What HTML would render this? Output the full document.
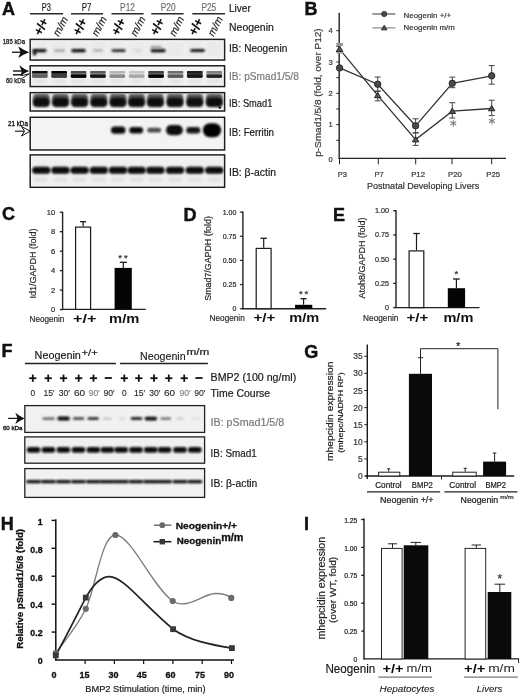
<!DOCTYPE html>
<html><head><meta charset="utf-8"><title>Figure</title>
<style>
html,body{margin:0;padding:0;background:#fff;}
body{width:520px;height:695px;overflow:hidden;}
svg{display:block;}
text{-webkit-font-smoothing:antialiased;}
.wrap{will-change:transform;}
text{font-family:"Liberation Sans", sans-serif;}
</style></head>
<body>
<div class="wrap"><svg width="520" height="695" viewBox="0 0 520 695">
<rect width="520" height="695" fill="#fff"/>
<defs><clipPath id="cA1"><rect x="30.95" y="40.15" width="192.90" height="19.15"/></clipPath><clipPath id="cA2"><rect x="30.95" y="66.55" width="192.90" height="19.25"/></clipPath><clipPath id="cA3"><rect x="30.95" y="93.40" width="192.90" height="16.85"/></clipPath><clipPath id="cA4"><rect x="30.95" y="118.05" width="192.90" height="31.15"/></clipPath><clipPath id="cA5"><rect x="30.95" y="155.65" width="192.90" height="30.90"/></clipPath><clipPath id="cF1"><rect x="25.50" y="406.50" width="178.40" height="25.10"/></clipPath><clipPath id="cF2"><rect x="25.50" y="437.60" width="178.40" height="24.70"/></clipPath><clipPath id="cF3"><rect x="25.50" y="469.30" width="178.40" height="27.20"/></clipPath><filter id="b1" x="-50%" y="-80%" width="200%" height="260%"><feGaussianBlur stdDeviation="0.8"/></filter><filter id="bh" x="-50%" y="-80%" width="200%" height="260%"><feGaussianBlur stdDeviation="0.85"/></filter><filter id="bs" x="-50%" y="-80%" width="200%" height="260%"><feGaussianBlur stdDeviation="0.55"/></filter><filter id="b2" x="-50%" y="-80%" width="200%" height="260%"><feGaussianBlur stdDeviation="1.6"/></filter></defs>
<text x="1.90" y="14.80" font-size="18" font-weight="bold" fill="#111" stroke="#111" stroke-width="0.45" >A</text>
<text x="46.35" y="10.80" font-size="11" text-anchor="middle" fill="#1a1a1a" stroke="#1a1a1a" stroke-width="0.20" textLength="9.10" lengthAdjust="spacingAndGlyphs" >P3</text>
<text x="86.55" y="10.80" font-size="11" text-anchor="middle" fill="#1a1a1a" stroke="#1a1a1a" stroke-width="0.20" textLength="9.70" lengthAdjust="spacingAndGlyphs" >P7</text>
<text x="127.50" y="10.80" font-size="11" text-anchor="middle" fill="#6e6e6e" stroke="#6e6e6e" stroke-width="0.20" textLength="14.80" lengthAdjust="spacingAndGlyphs" >P12</text>
<text x="168.20" y="10.80" font-size="11" text-anchor="middle" fill="#6e6e6e" stroke="#6e6e6e" stroke-width="0.20" textLength="14.80" lengthAdjust="spacingAndGlyphs" >P20</text>
<text x="208.80" y="10.80" font-size="11" text-anchor="middle" fill="#6e6e6e" stroke="#6e6e6e" stroke-width="0.20" textLength="14.80" lengthAdjust="spacingAndGlyphs" >P25</text>
<line x1="30.00" y1="13.80" x2="63.00" y2="13.80" stroke="#2a2a2a" stroke-width="1.5" />
<line x1="71.00" y1="13.80" x2="103.00" y2="13.80" stroke="#2a2a2a" stroke-width="1.5" />
<line x1="111.50" y1="13.80" x2="143.60" y2="13.80" stroke="#2a2a2a" stroke-width="1.5" />
<line x1="151.30" y1="13.80" x2="183.60" y2="13.80" stroke="#2a2a2a" stroke-width="1.5" />
<line x1="192.30" y1="13.80" x2="225.00" y2="13.80" stroke="#2a2a2a" stroke-width="1.5" />
<text x="44.90" y="28.90" font-size="13" text-anchor="middle" font-weight="bold" fill="#0a0a0a" transform="rotate(-63 44.90 28.90)" letter-spacing="-0.6" stroke="#0a0a0a" stroke-width="0.12">+/+</text>
<text x="63.60" y="27.90" font-size="10.5" text-anchor="middle" font-style="italic" fill="#222" stroke="#222" stroke-width="0.20" transform="rotate(-62 63.60 27.90)" >m/m</text>
<text x="83.60" y="28.90" font-size="13" text-anchor="middle" font-weight="bold" fill="#0a0a0a" transform="rotate(-63 83.60 28.90)" letter-spacing="-0.6" stroke="#0a0a0a" stroke-width="0.12">+/+</text>
<text x="102.30" y="27.90" font-size="10.5" text-anchor="middle" font-style="italic" fill="#222" stroke="#222" stroke-width="0.20" transform="rotate(-62 102.30 27.90)" >m/m</text>
<text x="122.30" y="28.90" font-size="13" text-anchor="middle" font-weight="bold" fill="#0a0a0a" transform="rotate(-63 122.30 28.90)" letter-spacing="-0.6" stroke="#0a0a0a" stroke-width="0.12">+/+</text>
<text x="141.00" y="27.90" font-size="10.5" text-anchor="middle" font-style="italic" fill="#222" stroke="#222" stroke-width="0.20" transform="rotate(-62 141.00 27.90)" >m/m</text>
<text x="161.00" y="28.90" font-size="13" text-anchor="middle" font-weight="bold" fill="#0a0a0a" transform="rotate(-63 161.00 28.90)" letter-spacing="-0.6" stroke="#0a0a0a" stroke-width="0.12">+/+</text>
<text x="179.70" y="27.90" font-size="10.5" text-anchor="middle" font-style="italic" fill="#222" stroke="#222" stroke-width="0.20" transform="rotate(-62 179.70 27.90)" >m/m</text>
<text x="199.70" y="28.90" font-size="13" text-anchor="middle" font-weight="bold" fill="#0a0a0a" transform="rotate(-63 199.70 28.90)" letter-spacing="-0.6" stroke="#0a0a0a" stroke-width="0.12">+/+</text>
<text x="218.40" y="27.90" font-size="10.5" text-anchor="middle" font-style="italic" fill="#222" stroke="#222" stroke-width="0.20" transform="rotate(-62 218.40 27.90)" >m/m</text>
<text x="229.00" y="11.90" font-size="10.6" fill="#1a1a1a" stroke="#1a1a1a" stroke-width="0.20" textLength="21.80" lengthAdjust="spacingAndGlyphs" >Liver</text>
<text x="229.00" y="31.20" font-size="10.6" fill="#1a1a1a" stroke="#1a1a1a" stroke-width="0.20" textLength="44.80" lengthAdjust="spacingAndGlyphs" >Neogenin</text>
<text x="229.00" y="52.20" font-size="10.6" fill="#1a1a1a" stroke="#1a1a1a" stroke-width="0.20" textLength="58.30" lengthAdjust="spacingAndGlyphs" >IB: Neogenin</text>
<text x="229.00" y="80.40" font-size="10.6" fill="#7a7a7a" stroke="#7a7a7a" stroke-width="0.20" textLength="69.80" lengthAdjust="spacingAndGlyphs" >IB: pSmad1/5/8</text>
<text x="229.00" y="106.90" font-size="10.6" fill="#1a1a1a" stroke="#1a1a1a" stroke-width="0.20" textLength="43.30" lengthAdjust="spacingAndGlyphs" >IB: Smad1</text>
<text x="229.00" y="135.80" font-size="10.6" fill="#1a1a1a" stroke="#1a1a1a" stroke-width="0.20" textLength="45.00" lengthAdjust="spacingAndGlyphs" >IB: Ferritin</text>
<text x="229.00" y="175.80" font-size="10.6" fill="#1a1a1a" stroke="#1a1a1a" stroke-width="0.20" textLength="47.00" lengthAdjust="spacingAndGlyphs" >IB: β-actin</text>
<text x="2.80" y="43.90" font-size="6.4" fill="#111" stroke="#111" stroke-width="0.25" textLength="22.20" lengthAdjust="spacingAndGlyphs" >185 kDa</text>
<text x="5.90" y="82.80" font-size="6.4" fill="#111" stroke="#111" stroke-width="0.25" textLength="19.10" lengthAdjust="spacingAndGlyphs" >60 kDa</text>
<text x="8.00" y="126.40" font-size="6.4" fill="#111" stroke="#111" stroke-width="0.30" textLength="19.90" lengthAdjust="spacingAndGlyphs" >21 kDa</text>
<rect x="30.20" y="39.40" width="194.40" height="20.65" fill="#fbfbfb" stroke="#1e1e1e" stroke-width="1.5" />
<rect x="31.80" y="41.00" width="191.20" height="17.45" fill="#f1f1f1" />
<rect x="30.20" y="65.80" width="194.40" height="20.75" fill="#fbfbfb" stroke="#1e1e1e" stroke-width="1.5" />
<rect x="31.80" y="67.40" width="191.20" height="17.55" fill="#f2f2f2" />
<rect x="30.20" y="92.65" width="194.40" height="18.35" fill="#fbfbfb" stroke="#1e1e1e" stroke-width="1.5" />
<rect x="31.80" y="94.25" width="191.20" height="15.15" fill="#f0f0f0" />
<rect x="30.20" y="117.30" width="194.40" height="32.65" fill="#fbfbfb" stroke="#1e1e1e" stroke-width="1.5" />
<rect x="31.80" y="118.90" width="191.20" height="29.45" fill="#f3f3f3" />
<rect x="30.20" y="154.90" width="194.40" height="32.40" fill="#fbfbfb" stroke="#1e1e1e" stroke-width="1.5" />
<rect x="31.80" y="156.50" width="191.20" height="29.20" fill="#f0f0f0" />
<g clip-path="url(#cA1)">
<rect x="31.80" y="41.00" width="16.00" height="16.00" fill="#e6e6e6" filter="url(#b2)" opacity="0.6"/>
<rect x="51.18" y="41.00" width="16.00" height="16.00" fill="#e6e6e6" filter="url(#b2)" opacity="0.6"/>
<rect x="70.56" y="41.00" width="16.00" height="16.00" fill="#e6e6e6" filter="url(#b2)" opacity="0.6"/>
<rect x="89.94" y="41.00" width="16.00" height="16.00" fill="#e6e6e6" filter="url(#b2)" opacity="0.6"/>
<rect x="109.32" y="41.00" width="16.00" height="16.00" fill="#e6e6e6" filter="url(#b2)" opacity="0.6"/>
<rect x="128.70" y="41.00" width="16.00" height="16.00" fill="#e6e6e6" filter="url(#b2)" opacity="0.6"/>
<rect x="148.08" y="41.00" width="16.00" height="16.00" fill="#e6e6e6" filter="url(#b2)" opacity="0.6"/>
<rect x="167.46" y="41.00" width="16.00" height="16.00" fill="#e6e6e6" filter="url(#b2)" opacity="0.6"/>
<rect x="186.84" y="41.00" width="16.00" height="16.00" fill="#e6e6e6" filter="url(#b2)" opacity="0.6"/>
<rect x="206.22" y="41.00" width="16.00" height="16.00" fill="#e6e6e6" filter="url(#b2)" opacity="0.6"/>
<rect x="32.50" y="48.90" width="14.00" height="3.40" rx="1.70" fill="#0a0a0a" filter="url(#bh)"/>
<rect x="54.00" y="49.50" width="11.00" height="2.20" rx="1.10" fill="#a0a0a0" filter="url(#bh)"/>
<rect x="71.25" y="49.00" width="14.50" height="3.20" rx="1.60" fill="#0e0e0e" filter="url(#bh)"/>
<rect x="93.00" y="49.60" width="10.00" height="2.00" rx="1.00" fill="#a4a4a4" filter="url(#bh)"/>
<rect x="111.60" y="49.20" width="14.00" height="2.80" rx="1.40" fill="#262626" filter="url(#bh)"/>
<rect x="134.00" y="49.80" width="8.00" height="1.60" rx="0.80" fill="#cccccc" filter="url(#bh)"/>
<rect x="150.70" y="49.00" width="15.00" height="3.20" rx="1.60" fill="#0c0c0c" filter="url(#bh)"/>
<rect x="190.35" y="49.10" width="14.50" height="3.00" rx="1.50" fill="#121212" filter="url(#bh)"/>
<rect x="33.00" y="50.60" width="3.20" height="4.80" rx="1.30" fill="#0c0c0c" filter="url(#bh)"/>
<rect x="150.50" y="46.20" width="11.00" height="2.20" rx="1.10" fill="#8a8a8a" filter="url(#bh)"/>
</g>
<g clip-path="url(#cA2)">
<rect x="32.00" y="73.00" width="15.60" height="2.40" fill="#7a7a7a" filter="url(#bs)"/>
<rect x="31.90" y="74.50" width="15.80" height="3.40" rx="1.40" fill="#606060" filter="url(#bs)"/>
<rect x="31.90" y="71.10" width="15.80" height="2.10" rx="1.00" fill="#0e0e0e" filter="url(#bs)"/>
<rect x="32.80" y="79.00" width="14.00" height="4.00" fill="#dcdcdc" filter="url(#b2)" opacity="0.7"/>
<rect x="51.38" y="73.00" width="15.60" height="2.40" fill="#444" filter="url(#bs)"/>
<rect x="51.28" y="74.50" width="15.80" height="3.40" rx="1.40" fill="#3a3a3a" filter="url(#bs)"/>
<rect x="51.28" y="71.10" width="15.80" height="2.10" rx="1.00" fill="#060606" filter="url(#bs)"/>
<rect x="52.18" y="79.00" width="14.00" height="4.00" fill="#dcdcdc" filter="url(#b2)" opacity="0.7"/>
<rect x="70.76" y="73.00" width="15.60" height="2.40" fill="#777" filter="url(#bs)"/>
<rect x="70.66" y="74.50" width="15.80" height="3.40" rx="1.40" fill="#060606" filter="url(#bs)"/>
<rect x="70.66" y="71.10" width="15.80" height="2.10" rx="1.00" fill="#4a4a4a" filter="url(#bs)"/>
<rect x="71.56" y="79.00" width="14.00" height="4.00" fill="#dcdcdc" filter="url(#b2)" opacity="0.7"/>
<rect x="90.14" y="73.00" width="15.60" height="2.40" fill="#8a8a8a" filter="url(#bs)"/>
<rect x="90.04" y="74.50" width="15.80" height="3.40" rx="1.40" fill="#141414" filter="url(#bs)"/>
<rect x="90.04" y="71.10" width="15.80" height="2.10" rx="1.00" fill="#5a5a5a" filter="url(#bs)"/>
<rect x="90.94" y="79.00" width="14.00" height="4.00" fill="#dcdcdc" filter="url(#b2)" opacity="0.7"/>
<rect x="109.52" y="73.00" width="15.60" height="2.40" fill="#d0d0d0" filter="url(#bs)"/>
<rect x="109.42" y="74.50" width="15.80" height="3.40" rx="1.40" fill="#8a8a8a" filter="url(#bs)"/>
<rect x="109.42" y="71.10" width="15.80" height="2.10" rx="1.00" fill="#b5b5b5" filter="url(#bs)"/>
<rect x="110.32" y="79.00" width="14.00" height="4.00" fill="#dcdcdc" filter="url(#b2)" opacity="0.7"/>
<rect x="128.90" y="73.00" width="15.60" height="2.40" fill="#dadada" filter="url(#bs)"/>
<rect x="128.80" y="74.50" width="15.80" height="3.40" rx="1.40" fill="#a8a8a8" filter="url(#bs)"/>
<rect x="128.80" y="71.10" width="15.80" height="2.10" rx="1.00" fill="#c8c8c8" filter="url(#bs)"/>
<rect x="129.70" y="79.00" width="14.00" height="4.00" fill="#dcdcdc" filter="url(#b2)" opacity="0.7"/>
<rect x="148.28" y="73.00" width="15.60" height="2.40" fill="#6a6a6a" filter="url(#bs)"/>
<rect x="148.18" y="74.50" width="15.80" height="3.40" rx="1.40" fill="#060606" filter="url(#bs)"/>
<rect x="148.18" y="71.10" width="15.80" height="2.10" rx="1.00" fill="#404040" filter="url(#bs)"/>
<rect x="149.08" y="79.00" width="14.00" height="4.00" fill="#dcdcdc" filter="url(#b2)" opacity="0.7"/>
<rect x="167.66" y="73.00" width="15.60" height="2.40" fill="#b0b0b0" filter="url(#bs)"/>
<rect x="167.56" y="74.50" width="15.80" height="3.40" rx="1.40" fill="#5a5a5a" filter="url(#bs)"/>
<rect x="167.56" y="71.10" width="15.80" height="2.10" rx="1.00" fill="#6a6a6a" filter="url(#bs)"/>
<rect x="168.46" y="79.00" width="14.00" height="4.00" fill="#dcdcdc" filter="url(#b2)" opacity="0.7"/>
<rect x="187.04" y="73.00" width="15.60" height="2.40" fill="#3a3a3a" filter="url(#bs)"/>
<rect x="186.94" y="74.50" width="15.80" height="3.40" rx="1.40" fill="#141414" filter="url(#bs)"/>
<rect x="186.94" y="71.10" width="15.80" height="2.10" rx="1.00" fill="#1a1a1a" filter="url(#bs)"/>
<rect x="187.84" y="79.00" width="14.00" height="4.00" fill="#dcdcdc" filter="url(#b2)" opacity="0.7"/>
<rect x="206.42" y="73.00" width="15.60" height="2.40" fill="#9a9a9a" filter="url(#bs)"/>
<rect x="206.32" y="74.50" width="15.80" height="3.40" rx="1.40" fill="#222" filter="url(#bs)"/>
<rect x="206.32" y="71.10" width="15.80" height="2.10" rx="1.00" fill="#808080" filter="url(#bs)"/>
<rect x="207.22" y="79.00" width="14.00" height="4.00" fill="#dcdcdc" filter="url(#b2)" opacity="0.7"/>
</g>
<g clip-path="url(#cA3)">
<rect x="33.00" y="93.60" width="16.60" height="13.20" rx="4.00" fill="#5a5a5a" filter="url(#b1)"/>
<rect x="33.20" y="97.80" width="16.20" height="8.80" rx="4.00" fill="#0e0e0e" filter="url(#b1)"/>
<rect x="52.20" y="93.60" width="16.60" height="13.20" rx="4.00" fill="#5a5a5a" filter="url(#b1)"/>
<rect x="52.40" y="97.80" width="16.20" height="8.80" rx="4.00" fill="#0e0e0e" filter="url(#b1)"/>
<rect x="71.30" y="93.60" width="16.60" height="13.20" rx="4.00" fill="#5a5a5a" filter="url(#b1)"/>
<rect x="71.50" y="97.80" width="16.20" height="8.80" rx="4.00" fill="#0e0e0e" filter="url(#b1)"/>
<rect x="90.50" y="93.60" width="16.60" height="13.20" rx="4.00" fill="#5a5a5a" filter="url(#b1)"/>
<rect x="90.70" y="97.80" width="16.20" height="8.80" rx="4.00" fill="#0e0e0e" filter="url(#b1)"/>
<rect x="109.70" y="93.60" width="16.60" height="13.20" rx="4.00" fill="#5a5a5a" filter="url(#b1)"/>
<rect x="109.90" y="97.80" width="16.20" height="8.80" rx="4.00" fill="#0e0e0e" filter="url(#b1)"/>
<rect x="128.30" y="93.60" width="16.60" height="13.20" rx="4.00" fill="#5a5a5a" filter="url(#b1)"/>
<rect x="128.50" y="97.80" width="16.20" height="8.80" rx="4.00" fill="#0e0e0e" filter="url(#b1)"/>
<rect x="147.10" y="93.60" width="16.60" height="13.20" rx="4.00" fill="#5a5a5a" filter="url(#b1)"/>
<rect x="147.30" y="97.80" width="16.20" height="8.80" rx="4.00" fill="#0e0e0e" filter="url(#b1)"/>
<rect x="166.70" y="93.60" width="16.60" height="13.20" rx="4.00" fill="#5a5a5a" filter="url(#b1)"/>
<rect x="166.90" y="97.80" width="16.20" height="8.80" rx="4.00" fill="#0e0e0e" filter="url(#b1)"/>
<rect x="186.50" y="93.60" width="16.60" height="13.20" rx="4.00" fill="#5a5a5a" filter="url(#b1)"/>
<rect x="186.70" y="97.80" width="16.20" height="8.80" rx="4.00" fill="#0e0e0e" filter="url(#b1)"/>
<rect x="206.00" y="93.60" width="16.60" height="13.20" rx="4.00" fill="#5a5a5a" filter="url(#b1)"/>
<rect x="206.20" y="97.80" width="16.20" height="8.80" rx="4.00" fill="#0e0e0e" filter="url(#b1)"/>
<circle cx="219.8" cy="107.6" r="1.2" fill="#000"/>
</g>
<g clip-path="url(#cA4)">
<rect x="110.95" y="126.60" width="14.50" height="7.20" rx="3.60" fill="#0c0c0c" filter="url(#b1)"/>
<rect x="129.30" y="126.90" width="13.80" height="6.60" rx="3.30" fill="#101010" filter="url(#b1)"/>
<rect x="147.30" y="127.80" width="13.80" height="4.80" rx="2.40" fill="#4a4a4a" filter="url(#b1)"/>
<rect x="166.00" y="125.10" width="16.80" height="10.20" rx="5.10" fill="#0a0a0a" filter="url(#b1)"/>
<rect x="186.30" y="127.00" width="14.00" height="6.40" rx="3.20" fill="#121212" filter="url(#b1)"/>
<rect x="202.90" y="123.20" width="18.20" height="14.00" rx="7.00" fill="#060606" filter="url(#b1)"/>
</g>
<g clip-path="url(#cA5)">
<rect x="32.10" y="166.70" width="18.40" height="7.00" rx="3.50" fill="#080808" filter="url(#b1)"/>
<rect x="34.30" y="177.50" width="14.00" height="4.00" rx="2.00" fill="#dedede" filter="url(#b2)"/>
<rect x="51.30" y="166.70" width="18.40" height="7.00" rx="3.50" fill="#080808" filter="url(#b1)"/>
<rect x="53.50" y="177.50" width="14.00" height="4.00" rx="2.00" fill="#dedede" filter="url(#b2)"/>
<rect x="70.40" y="166.70" width="18.40" height="7.00" rx="3.50" fill="#080808" filter="url(#b1)"/>
<rect x="72.60" y="177.50" width="14.00" height="4.00" rx="2.00" fill="#dedede" filter="url(#b2)"/>
<rect x="89.60" y="166.70" width="18.40" height="7.00" rx="3.50" fill="#080808" filter="url(#b1)"/>
<rect x="91.80" y="177.50" width="14.00" height="4.00" rx="2.00" fill="#dedede" filter="url(#b2)"/>
<rect x="108.80" y="166.70" width="18.40" height="7.00" rx="3.50" fill="#080808" filter="url(#b1)"/>
<rect x="111.00" y="177.50" width="14.00" height="4.00" rx="2.00" fill="#dedede" filter="url(#b2)"/>
<rect x="127.40" y="166.70" width="18.40" height="7.00" rx="3.50" fill="#080808" filter="url(#b1)"/>
<rect x="129.60" y="177.50" width="14.00" height="4.00" rx="2.00" fill="#dedede" filter="url(#b2)"/>
<rect x="146.20" y="166.70" width="18.40" height="7.00" rx="3.50" fill="#080808" filter="url(#b1)"/>
<rect x="148.40" y="177.50" width="14.00" height="4.00" rx="2.00" fill="#dedede" filter="url(#b2)"/>
<rect x="165.80" y="166.70" width="18.40" height="7.00" rx="3.50" fill="#080808" filter="url(#b1)"/>
<rect x="168.00" y="177.50" width="14.00" height="4.00" rx="2.00" fill="#dedede" filter="url(#b2)"/>
<rect x="185.60" y="166.70" width="18.40" height="7.00" rx="3.50" fill="#080808" filter="url(#b1)"/>
<rect x="187.80" y="177.50" width="14.00" height="4.00" rx="2.00" fill="#dedede" filter="url(#b2)"/>
<rect x="205.10" y="166.70" width="18.40" height="7.00" rx="3.50" fill="#080808" filter="url(#b1)"/>
<rect x="207.30" y="177.50" width="14.00" height="4.00" rx="2.00" fill="#dedede" filter="url(#b2)"/>
</g>
<line x1="12.00" y1="52.25" x2="24.00" y2="52.25" stroke="#111" stroke-width="1.3" />
<path d="M29.20,52.25 Q23.75,50.26 18.30,46.55 L20.60,52.25 L18.30,57.95 Q23.75,54.24 29.20,52.25 Z" fill="#111"/>
<line x1="13.00" y1="71.00" x2="24.00" y2="71.00" stroke="#111" stroke-width="1.4" />
<line x1="13.00" y1="74.80" x2="22.00" y2="74.80" stroke="#111" stroke-width="1.4" />
<path d="M29.2,71 Q24,69.4 19.3,65.3 L21.8,71.5 L20.3,76.2 Q24.5,72.6 29.2,71 Z" fill="#111"/>
<path d="M29.2,73.8 L20.8,79.2 M29.2,73.8 L21.5,75.6" fill="none" stroke="#111" stroke-width="0.9" />
<line x1="15.00" y1="131.20" x2="29.00" y2="131.20" stroke="#111" stroke-width="1.1" />
<path d="M30.2,131.2 L21.5,126.5 L24.5,131.2 L21.5,136 Z" fill="#fff" stroke="#111" stroke-width="1.0" />
<text x="304.50" y="14.80" font-size="18" font-weight="bold" fill="#111" stroke="#111" stroke-width="0.45" >B</text>
<line x1="339.20" y1="12.80" x2="339.20" y2="158.90" stroke="#222" stroke-width="1.4" />
<line x1="338.70" y1="158.40" x2="506.00" y2="158.40" stroke="#222" stroke-width="1.4" />
<line x1="336.30" y1="140.25" x2="339.20" y2="140.25" stroke="#222" stroke-width="1.0" />
<line x1="336.30" y1="124.60" x2="339.20" y2="124.60" stroke="#222" stroke-width="1.0" />
<line x1="336.30" y1="108.95" x2="339.20" y2="108.95" stroke="#222" stroke-width="1.0" />
<line x1="336.30" y1="93.30" x2="339.20" y2="93.30" stroke="#222" stroke-width="1.0" />
<line x1="336.30" y1="77.65" x2="339.20" y2="77.65" stroke="#222" stroke-width="1.0" />
<line x1="336.30" y1="62.00" x2="339.20" y2="62.00" stroke="#222" stroke-width="1.0" />
<line x1="336.30" y1="46.35" x2="339.20" y2="46.35" stroke="#222" stroke-width="1.0" />
<line x1="336.30" y1="30.70" x2="339.20" y2="30.70" stroke="#222" stroke-width="1.0" />
<text x="332.80" y="127.30" font-size="7.6" text-anchor="end" fill="#333" stroke="#333" stroke-width="0.20" >1</text>
<text x="332.80" y="96.00" font-size="7.6" text-anchor="end" fill="#333" stroke="#333" stroke-width="0.20" >2</text>
<text x="332.80" y="64.70" font-size="7.6" text-anchor="end" fill="#333" stroke="#333" stroke-width="0.20" >3</text>
<text x="332.80" y="33.40" font-size="7.6" text-anchor="end" fill="#333" stroke="#333" stroke-width="0.20" >4</text>
<text x="332.80" y="162.40" font-size="7.6" text-anchor="end" fill="#333" stroke="#333" stroke-width="0.20" >0</text>
<line x1="339.50" y1="158.40" x2="339.50" y2="164.30" stroke="#222" stroke-width="1.0" />
<line x1="378.30" y1="158.40" x2="378.30" y2="164.30" stroke="#222" stroke-width="1.0" />
<line x1="415.70" y1="158.40" x2="415.70" y2="164.30" stroke="#222" stroke-width="1.0" />
<line x1="452.00" y1="158.40" x2="452.00" y2="164.30" stroke="#222" stroke-width="1.0" />
<line x1="491.70" y1="158.40" x2="491.70" y2="164.30" stroke="#222" stroke-width="1.0" />
<text x="342.40" y="177.00" font-size="8.0" text-anchor="middle" fill="#333" stroke="#333" stroke-width="0.20" textLength="9.30" lengthAdjust="spacingAndGlyphs" >P3</text>
<text x="379.10" y="177.00" font-size="8.0" text-anchor="middle" fill="#333" stroke="#333" stroke-width="0.20" textLength="9.30" lengthAdjust="spacingAndGlyphs" >P7</text>
<text x="418.10" y="177.00" font-size="8.0" text-anchor="middle" fill="#333" stroke="#333" stroke-width="0.20" textLength="13.80" lengthAdjust="spacingAndGlyphs" >P12</text>
<text x="455.00" y="177.00" font-size="8.0" text-anchor="middle" fill="#333" stroke="#333" stroke-width="0.20" textLength="13.80" lengthAdjust="spacingAndGlyphs" >P20</text>
<text x="493.20" y="177.00" font-size="8.0" text-anchor="middle" fill="#333" stroke="#333" stroke-width="0.20" textLength="13.80" lengthAdjust="spacingAndGlyphs" >P25</text>
<text x="423.10" y="188.70" font-size="9.4" text-anchor="middle" fill="#333" stroke="#333" stroke-width="0.20" textLength="112.30" lengthAdjust="spacingAndGlyphs" >Postnatal Developing Livers</text>
<text x="321.50" y="92.60" font-size="9.6" text-anchor="middle" fill="#3a3a3a" stroke="#3a3a3a" stroke-width="0.20" textLength="128.50" lengthAdjust="spacingAndGlyphs" transform="rotate(-90 321.50 92.60)" >p-Smad1/5/8 (fold, over  P12)</text>
<path d="M339.6,67.9 L377.7,84.2 L415.6,125.8 L452.3,83.3 L491.7,75.8" fill="none" stroke="#333" stroke-width="1.3" />
<path d="M339.6,49.2 L377.7,95.4 L415.6,139.6 L452.3,111.2 L491.7,108.5" fill="none" stroke="#333" stroke-width="1.3" />
<line x1="339.60" y1="67.90" x2="339.60" y2="67.90" stroke="#444" stroke-width="1.0" />
<line x1="336.60" y1="67.90" x2="342.60" y2="67.90" stroke="#444" stroke-width="1.0" />
<line x1="336.60" y1="67.90" x2="342.60" y2="67.90" stroke="#444" stroke-width="1.0" />
<line x1="377.70" y1="77.00" x2="377.70" y2="91.40" stroke="#444" stroke-width="1.0" />
<line x1="374.70" y1="77.00" x2="380.70" y2="77.00" stroke="#444" stroke-width="1.0" />
<line x1="374.70" y1="91.40" x2="380.70" y2="91.40" stroke="#444" stroke-width="1.0" />
<line x1="415.60" y1="118.80" x2="415.60" y2="132.80" stroke="#444" stroke-width="1.0" />
<line x1="412.60" y1="118.80" x2="418.60" y2="118.80" stroke="#444" stroke-width="1.0" />
<line x1="412.60" y1="132.80" x2="418.60" y2="132.80" stroke="#444" stroke-width="1.0" />
<line x1="452.30" y1="77.10" x2="452.30" y2="87.70" stroke="#444" stroke-width="1.0" />
<line x1="449.30" y1="77.10" x2="455.30" y2="77.10" stroke="#444" stroke-width="1.0" />
<line x1="449.30" y1="87.70" x2="455.30" y2="87.70" stroke="#444" stroke-width="1.0" />
<line x1="491.70" y1="65.60" x2="491.70" y2="84.20" stroke="#444" stroke-width="1.0" />
<line x1="488.70" y1="65.60" x2="494.70" y2="65.60" stroke="#444" stroke-width="1.0" />
<line x1="488.70" y1="84.20" x2="494.70" y2="84.20" stroke="#444" stroke-width="1.0" />
<line x1="339.60" y1="43.80" x2="339.60" y2="52.70" stroke="#444" stroke-width="1.0" />
<line x1="336.60" y1="43.80" x2="342.60" y2="43.80" stroke="#444" stroke-width="1.0" />
<line x1="336.60" y1="52.70" x2="342.60" y2="52.70" stroke="#444" stroke-width="1.0" />
<line x1="377.70" y1="91.00" x2="377.70" y2="100.80" stroke="#444" stroke-width="1.0" />
<line x1="374.70" y1="91.00" x2="380.70" y2="91.00" stroke="#444" stroke-width="1.0" />
<line x1="374.70" y1="100.80" x2="380.70" y2="100.80" stroke="#444" stroke-width="1.0" />
<line x1="415.60" y1="132.90" x2="415.60" y2="145.40" stroke="#444" stroke-width="1.0" />
<line x1="412.60" y1="132.90" x2="418.60" y2="132.90" stroke="#444" stroke-width="1.0" />
<line x1="412.60" y1="145.40" x2="418.60" y2="145.40" stroke="#444" stroke-width="1.0" />
<line x1="452.30" y1="102.70" x2="452.30" y2="118.00" stroke="#444" stroke-width="1.0" />
<line x1="449.30" y1="102.70" x2="455.30" y2="102.70" stroke="#444" stroke-width="1.0" />
<line x1="449.30" y1="118.00" x2="455.30" y2="118.00" stroke="#444" stroke-width="1.0" />
<line x1="491.70" y1="100.20" x2="491.70" y2="115.60" stroke="#444" stroke-width="1.0" />
<line x1="488.70" y1="100.20" x2="494.70" y2="100.20" stroke="#444" stroke-width="1.0" />
<line x1="488.70" y1="115.60" x2="494.70" y2="115.60" stroke="#444" stroke-width="1.0" />
<rect x="336.40" y="43.00" width="6.60" height="3.20" fill="#9a9a9a" />
<rect x="336.40" y="50.20" width="6.60" height="3.20" fill="#a5a5a5" />
<circle cx="339.6" cy="67.9" r="3.2" fill="#4a4a4a" stroke="#222" stroke-width="0.9"/>
<circle cx="377.7" cy="84.2" r="3.2" fill="#4a4a4a" stroke="#222" stroke-width="0.9"/>
<circle cx="415.6" cy="125.8" r="3.2" fill="#4a4a4a" stroke="#222" stroke-width="0.9"/>
<circle cx="452.3" cy="83.3" r="3.2" fill="#4a4a4a" stroke="#222" stroke-width="0.9"/>
<circle cx="491.7" cy="75.8" r="3.2" fill="#4a4a4a" stroke="#222" stroke-width="0.9"/>
<path d="M339.60,46.07 L342.90,51.51 L336.30,51.51 Z" fill="#555" stroke="#222" stroke-width="0.9"/>
<path d="M377.70,92.27 L381.00,97.71 L374.40,97.71 Z" fill="#555" stroke="#222" stroke-width="0.9"/>
<path d="M415.60,136.47 L418.90,141.91 L412.30,141.91 Z" fill="#555" stroke="#222" stroke-width="0.9"/>
<path d="M452.30,108.06 L455.60,113.51 L449.00,113.51 Z" fill="#555" stroke="#222" stroke-width="0.9"/>
<path d="M491.70,105.36 L495.00,110.81 L488.40,110.81 Z" fill="#555" stroke="#222" stroke-width="0.9"/>
<line x1="453.30" y1="119.90" x2="453.30" y2="126.70" stroke="#808080" stroke-width="1.1" />
<line x1="450.36" y1="121.60" x2="456.24" y2="125.00" stroke="#808080" stroke-width="1.1" />
<line x1="450.36" y1="125.00" x2="456.24" y2="121.60" stroke="#808080" stroke-width="1.1" />
<line x1="491.90" y1="117.60" x2="491.90" y2="124.40" stroke="#808080" stroke-width="1.1" />
<line x1="488.96" y1="119.30" x2="494.84" y2="122.70" stroke="#808080" stroke-width="1.1" />
<line x1="488.96" y1="122.70" x2="494.84" y2="119.30" stroke="#808080" stroke-width="1.1" />
<line x1="372.30" y1="14.00" x2="395.40" y2="14.00" stroke="#333" stroke-width="1.0" />
<circle cx="384.2" cy="14" r="2.6" fill="#4a4a4a" stroke="#222" stroke-width="0.8"/>
<line x1="372.30" y1="27.90" x2="395.40" y2="27.90" stroke="#777" stroke-width="1.0" />
<path d="M384.20,25.24 L387.00,29.86 L381.40,29.86 Z" fill="#555" stroke="#222" stroke-width="0.9"/>
<text x="403.60" y="18.30" font-size="7.3" fill="#333" stroke="#333" stroke-width="0.20" textLength="47.50" lengthAdjust="spacingAndGlyphs" >Neogenin  +/+</text>
<text x="403.60" y="29.80" font-size="7.3" fill="#333" stroke="#333" stroke-width="0.20" textLength="51.20" lengthAdjust="spacingAndGlyphs" >Neogenin  m/m</text>
<text x="2.10" y="220.20" font-size="18" font-weight="bold" fill="#111" stroke="#111" stroke-width="0.45" >C</text>
<line x1="62.60" y1="211.70" x2="62.60" y2="309.90" stroke="#222" stroke-width="1.4" />
<line x1="61.90" y1="309.40" x2="145.80" y2="309.40" stroke="#222" stroke-width="1.4" />
<line x1="59.80" y1="309.60" x2="62.60" y2="309.60" stroke="#222" stroke-width="1.3" />
<text x="55.10" y="312.10" font-size="7.5" text-anchor="end" fill="#2a2a2a" stroke="#2a2a2a" stroke-width="0.20" >0</text>
<line x1="59.80" y1="290.12" x2="62.60" y2="290.12" stroke="#222" stroke-width="1.3" />
<text x="55.10" y="292.62" font-size="7.5" text-anchor="end" fill="#2a2a2a" stroke="#2a2a2a" stroke-width="0.20" >2</text>
<line x1="59.80" y1="270.64" x2="62.60" y2="270.64" stroke="#222" stroke-width="1.3" />
<text x="55.10" y="273.14" font-size="7.5" text-anchor="end" fill="#2a2a2a" stroke="#2a2a2a" stroke-width="0.20" >4</text>
<line x1="59.80" y1="251.16" x2="62.60" y2="251.16" stroke="#222" stroke-width="1.3" />
<text x="55.10" y="253.66" font-size="7.5" text-anchor="end" fill="#2a2a2a" stroke="#2a2a2a" stroke-width="0.20" >6</text>
<line x1="59.80" y1="231.68" x2="62.60" y2="231.68" stroke="#222" stroke-width="1.3" />
<text x="55.10" y="234.18" font-size="7.5" text-anchor="end" fill="#2a2a2a" stroke="#2a2a2a" stroke-width="0.20" >8</text>
<line x1="59.80" y1="212.20" x2="62.60" y2="212.20" stroke="#222" stroke-width="1.3" />
<text x="55.10" y="214.70" font-size="7.5" text-anchor="end" fill="#2a2a2a" stroke="#2a2a2a" stroke-width="0.20" >10</text>
<rect x="75.60" y="227.10" width="15.00" height="82.30" fill="#fff" stroke="#1a1a1a" stroke-width="1.2" />
<rect x="114.60" y="267.90" width="17.20" height="41.50" fill="#050505" />
<line x1="83.10" y1="221.70" x2="83.10" y2="226.50" stroke="#1a1a1a" stroke-width="1.2" />
<line x1="80.10" y1="221.70" x2="86.10" y2="221.70" stroke="#1a1a1a" stroke-width="1.3" />
<line x1="123.30" y1="262.30" x2="123.30" y2="267.90" stroke="#1a1a1a" stroke-width="1.2" />
<line x1="119.80" y1="262.30" x2="126.80" y2="262.30" stroke="#1a1a1a" stroke-width="1.3" />
<text x="123.90" y="260.80" font-size="9.5" text-anchor="middle" fill="#333" stroke="#333" stroke-width="0.20" letter-spacing="1.9">**</text>
<text x="35.60" y="263.50" font-size="9.3" text-anchor="middle" fill="#2a2a2a" stroke="#2a2a2a" stroke-width="0.20" textLength="70.00" lengthAdjust="spacingAndGlyphs" transform="rotate(-90 35.60 263.50)" >Id1/GAPDH (fold)</text>
<text x="29.60" y="321.90" font-size="9" fill="#2a2a2a" stroke="#2a2a2a" stroke-width="0.20" textLength="34.80" lengthAdjust="spacingAndGlyphs" >Neogenin</text>
<text x="73.00" y="322.50" font-size="12.5" font-weight="bold" fill="#111" textLength="23.40" lengthAdjust="spacingAndGlyphs" >+/+</text>
<text x="109.10" y="322.90" font-size="13" font-weight="bold" fill="#111" textLength="30.30" lengthAdjust="spacingAndGlyphs" >m/m</text>
<text x="183.50" y="220.70" font-size="18" font-weight="bold" fill="#111" stroke="#111" stroke-width="0.45" >D</text>
<line x1="242.90" y1="211.60" x2="242.90" y2="309.20" stroke="#222" stroke-width="1.4" />
<line x1="242.20" y1="308.70" x2="326.20" y2="308.70" stroke="#222" stroke-width="1.4" />
<line x1="240.10" y1="308.70" x2="242.90" y2="308.70" stroke="#222" stroke-width="1.3" />
<text x="236.30" y="311.20" font-size="7.0" text-anchor="end" fill="#2a2a2a" stroke="#2a2a2a" stroke-width="0.20" >0</text>
<line x1="240.10" y1="284.55" x2="242.90" y2="284.55" stroke="#222" stroke-width="1.3" />
<text x="236.30" y="287.05" font-size="7.0" text-anchor="end" fill="#2a2a2a" stroke="#2a2a2a" stroke-width="0.20" >0.25</text>
<line x1="240.10" y1="260.40" x2="242.90" y2="260.40" stroke="#222" stroke-width="1.3" />
<text x="236.30" y="262.90" font-size="7.0" text-anchor="end" fill="#2a2a2a" stroke="#2a2a2a" stroke-width="0.20" >0.50</text>
<line x1="240.10" y1="236.25" x2="242.90" y2="236.25" stroke="#222" stroke-width="1.3" />
<text x="236.30" y="238.75" font-size="7.0" text-anchor="end" fill="#2a2a2a" stroke="#2a2a2a" stroke-width="0.20" >0.75</text>
<line x1="240.10" y1="212.10" x2="242.90" y2="212.10" stroke="#222" stroke-width="1.3" />
<text x="236.30" y="214.60" font-size="7.0" text-anchor="end" fill="#2a2a2a" stroke="#2a2a2a" stroke-width="0.20" >1.00</text>
<rect x="256.20" y="248.40" width="14.90" height="60.30" fill="#fff" stroke="#1a1a1a" stroke-width="1.2" />
<rect x="295.00" y="304.80" width="17.30" height="3.90" fill="#050505" />
<line x1="263.70" y1="238.30" x2="263.70" y2="247.80" stroke="#1a1a1a" stroke-width="1.2" />
<line x1="260.50" y1="238.30" x2="266.90" y2="238.30" stroke="#1a1a1a" stroke-width="1.3" />
<line x1="303.60" y1="298.70" x2="303.60" y2="304.80" stroke="#1a1a1a" stroke-width="1.2" />
<line x1="300.60" y1="298.70" x2="306.60" y2="298.70" stroke="#1a1a1a" stroke-width="1.3" />
<text x="304.60" y="296.60" font-size="9.5" text-anchor="middle" fill="#333" stroke="#333" stroke-width="0.20" letter-spacing="1.9">**</text>
<text x="211.40" y="258.40" font-size="8.2" text-anchor="middle" fill="#2a2a2a" stroke="#2a2a2a" stroke-width="0.20" textLength="84.50" lengthAdjust="spacingAndGlyphs" transform="rotate(-90 211.40 258.40)" >Smad7/GAPDH (fold)</text>
<text x="209.60" y="321.00" font-size="9" fill="#2a2a2a" stroke="#2a2a2a" stroke-width="0.20" textLength="35.10" lengthAdjust="spacingAndGlyphs" >Neogenin</text>
<text x="253.50" y="321.80" font-size="12.5" font-weight="bold" fill="#111" textLength="21.90" lengthAdjust="spacingAndGlyphs" >+/+</text>
<text x="289.20" y="322.20" font-size="13" font-weight="bold" fill="#111" textLength="30.00" lengthAdjust="spacingAndGlyphs" >m/m</text>
<text x="333.00" y="221.00" font-size="18" font-weight="bold" fill="#111" stroke="#111" stroke-width="0.45" >E</text>
<line x1="396.00" y1="210.00" x2="396.00" y2="308.10" stroke="#222" stroke-width="1.4" />
<line x1="395.30" y1="307.60" x2="479.50" y2="307.60" stroke="#222" stroke-width="1.4" />
<line x1="393.20" y1="307.60" x2="396.00" y2="307.60" stroke="#222" stroke-width="1.3" />
<text x="389.00" y="310.10" font-size="7.2" text-anchor="end" fill="#2a2a2a" stroke="#2a2a2a" stroke-width="0.20" >0</text>
<line x1="393.20" y1="283.38" x2="396.00" y2="283.38" stroke="#222" stroke-width="1.3" />
<text x="389.00" y="285.88" font-size="7.2" text-anchor="end" fill="#2a2a2a" stroke="#2a2a2a" stroke-width="0.20" >0.25</text>
<line x1="393.20" y1="259.15" x2="396.00" y2="259.15" stroke="#222" stroke-width="1.3" />
<text x="389.00" y="261.65" font-size="7.2" text-anchor="end" fill="#2a2a2a" stroke="#2a2a2a" stroke-width="0.20" >0.50</text>
<line x1="393.20" y1="234.93" x2="396.00" y2="234.93" stroke="#222" stroke-width="1.3" />
<text x="389.00" y="237.43" font-size="7.2" text-anchor="end" fill="#2a2a2a" stroke="#2a2a2a" stroke-width="0.20" >0.75</text>
<line x1="393.20" y1="210.70" x2="396.00" y2="210.70" stroke="#222" stroke-width="1.3" />
<text x="389.00" y="213.20" font-size="7.2" text-anchor="end" fill="#2a2a2a" stroke="#2a2a2a" stroke-width="0.20" >1.00</text>
<rect x="409.10" y="250.90" width="14.70" height="56.70" fill="#fff" stroke="#1a1a1a" stroke-width="1.2" />
<rect x="447.80" y="288.20" width="17.30" height="19.40" fill="#050505" />
<line x1="416.50" y1="233.50" x2="416.50" y2="250.30" stroke="#1a1a1a" stroke-width="1.2" />
<line x1="413.30" y1="233.50" x2="419.70" y2="233.50" stroke="#1a1a1a" stroke-width="1.3" />
<line x1="456.40" y1="279.00" x2="456.40" y2="288.20" stroke="#1a1a1a" stroke-width="1.2" />
<line x1="453.00" y1="279.00" x2="459.80" y2="279.00" stroke="#1a1a1a" stroke-width="1.3" />
<text x="456.40" y="277.30" font-size="9.5" text-anchor="middle" fill="#333" stroke="#333" stroke-width="0.20" letter-spacing="0">*</text>
<text x="365.40" y="258.00" font-size="8.6" text-anchor="middle" fill="#2a2a2a" stroke="#2a2a2a" stroke-width="0.20" textLength="81.20" lengthAdjust="spacingAndGlyphs" transform="rotate(-90 365.40 258.00)" >Atoh8/GAPDH (fold)</text>
<text x="363.10" y="320.60" font-size="9" fill="#2a2a2a" stroke="#2a2a2a" stroke-width="0.20" textLength="35.30" lengthAdjust="spacingAndGlyphs" >Neogenin</text>
<text x="406.50" y="321.50" font-size="12.5" font-weight="bold" fill="#111" textLength="21.90" lengthAdjust="spacingAndGlyphs" >+/+</text>
<text x="443.40" y="321.90" font-size="13" font-weight="bold" fill="#111" textLength="30.00" lengthAdjust="spacingAndGlyphs" >m/m</text>
<text x="1.60" y="356.90" font-size="18" font-weight="bold" fill="#111" stroke="#111" stroke-width="0.45" >F</text>
<text x="34.60" y="359.40" font-size="11" fill="#1a1a1a" stroke="#1a1a1a" stroke-width="0.20" textLength="46.20" lengthAdjust="spacingAndGlyphs" >Neogenin</text>
<text x="81.50" y="356.00" font-size="8.5" fill="#1a1a1a" stroke="#1a1a1a" stroke-width="0.20" textLength="16.20" lengthAdjust="spacingAndGlyphs" >+/+</text>
<text x="140.10" y="360.40" font-size="11.3" fill="#1a1a1a" stroke="#1a1a1a" stroke-width="0.14" textLength="45.50" lengthAdjust="spacingAndGlyphs" >Neogenin</text>
<text x="186.40" y="355.20" font-size="8.8" fill="#1a1a1a" stroke="#1a1a1a" stroke-width="0.20" textLength="22.80" lengthAdjust="spacingAndGlyphs" >m/m</text>
<line x1="25.00" y1="363.60" x2="115.90" y2="363.60" stroke="#222" stroke-width="1.5" />
<line x1="120.10" y1="363.60" x2="207.90" y2="363.60" stroke="#222" stroke-width="1.5" />
<line x1="29.20" y1="378.20" x2="36.40" y2="378.20" stroke="#111" stroke-width="1.8" />
<line x1="32.80" y1="374.60" x2="32.80" y2="381.80" stroke="#111" stroke-width="1.8" />
<line x1="44.60" y1="378.20" x2="51.80" y2="378.20" stroke="#111" stroke-width="1.8" />
<line x1="48.20" y1="374.60" x2="48.20" y2="381.80" stroke="#111" stroke-width="1.8" />
<line x1="59.90" y1="378.20" x2="67.10" y2="378.20" stroke="#111" stroke-width="1.8" />
<line x1="63.50" y1="374.60" x2="63.50" y2="381.80" stroke="#111" stroke-width="1.8" />
<line x1="75.10" y1="378.20" x2="82.30" y2="378.20" stroke="#111" stroke-width="1.8" />
<line x1="78.70" y1="374.60" x2="78.70" y2="381.80" stroke="#111" stroke-width="1.8" />
<line x1="89.90" y1="378.20" x2="97.10" y2="378.20" stroke="#111" stroke-width="1.8" />
<line x1="93.50" y1="374.60" x2="93.50" y2="381.80" stroke="#111" stroke-width="1.8" />
<line x1="104.70" y1="378.00" x2="111.90" y2="378.00" stroke="#111" stroke-width="1.8" />
<line x1="120.70" y1="378.20" x2="127.90" y2="378.20" stroke="#111" stroke-width="1.8" />
<line x1="124.30" y1="374.60" x2="124.30" y2="381.80" stroke="#111" stroke-width="1.8" />
<line x1="135.20" y1="378.20" x2="142.40" y2="378.20" stroke="#111" stroke-width="1.8" />
<line x1="138.80" y1="374.60" x2="138.80" y2="381.80" stroke="#111" stroke-width="1.8" />
<line x1="150.40" y1="378.20" x2="157.60" y2="378.20" stroke="#111" stroke-width="1.8" />
<line x1="154.00" y1="374.60" x2="154.00" y2="381.80" stroke="#111" stroke-width="1.8" />
<line x1="165.20" y1="378.20" x2="172.40" y2="378.20" stroke="#111" stroke-width="1.8" />
<line x1="168.80" y1="374.60" x2="168.80" y2="381.80" stroke="#111" stroke-width="1.8" />
<line x1="180.60" y1="378.20" x2="187.80" y2="378.20" stroke="#111" stroke-width="1.8" />
<line x1="184.20" y1="374.60" x2="184.20" y2="381.80" stroke="#111" stroke-width="1.8" />
<line x1="195.40" y1="378.00" x2="202.60" y2="378.00" stroke="#111" stroke-width="1.8" />
<text x="32.80" y="396.00" font-size="8.4" text-anchor="middle" fill="#1a1a1a" stroke="#1a1a1a" stroke-width="0.20" stroke-opacity="0.4">0</text>
<text x="49.00" y="396.00" font-size="8.4" text-anchor="middle" fill="#1a1a1a" stroke="#1a1a1a" stroke-width="0.20" textLength="11.20" lengthAdjust="spacingAndGlyphs" stroke-opacity="0.4">15′</text>
<text x="64.30" y="396.00" font-size="8.4" text-anchor="middle" fill="#1a1a1a" stroke="#1a1a1a" stroke-width="0.20" textLength="11.20" lengthAdjust="spacingAndGlyphs" stroke-opacity="0.4">30′</text>
<text x="79.50" y="396.00" font-size="8.4" text-anchor="middle" fill="#1a1a1a" stroke="#1a1a1a" stroke-width="0.20" textLength="11.20" lengthAdjust="spacingAndGlyphs" stroke-opacity="0.4">60</text>
<text x="94.30" y="396.00" font-size="8.4" text-anchor="middle" fill="#7a7a7a" stroke="#7a7a7a" stroke-width="0.20" textLength="11.20" lengthAdjust="spacingAndGlyphs" stroke-opacity="0.4">90′</text>
<text x="109.10" y="396.00" font-size="8.4" text-anchor="middle" fill="#1a1a1a" stroke="#1a1a1a" stroke-width="0.20" textLength="11.20" lengthAdjust="spacingAndGlyphs" stroke-opacity="0.4">90′</text>
<text x="124.30" y="396.00" font-size="8.4" text-anchor="middle" fill="#1a1a1a" stroke="#1a1a1a" stroke-width="0.20" stroke-opacity="0.4">0</text>
<text x="139.60" y="396.00" font-size="8.4" text-anchor="middle" fill="#1a1a1a" stroke="#1a1a1a" stroke-width="0.20" textLength="11.20" lengthAdjust="spacingAndGlyphs" stroke-opacity="0.4">15′</text>
<text x="154.80" y="396.00" font-size="8.4" text-anchor="middle" fill="#1a1a1a" stroke="#1a1a1a" stroke-width="0.20" textLength="11.20" lengthAdjust="spacingAndGlyphs" stroke-opacity="0.4">30′</text>
<text x="169.60" y="396.00" font-size="8.4" text-anchor="middle" fill="#1a1a1a" stroke="#1a1a1a" stroke-width="0.20" textLength="11.20" lengthAdjust="spacingAndGlyphs" stroke-opacity="0.4">60</text>
<text x="185.00" y="396.00" font-size="8.4" text-anchor="middle" fill="#7a7a7a" stroke="#7a7a7a" stroke-width="0.20" textLength="11.20" lengthAdjust="spacingAndGlyphs" stroke-opacity="0.4">90′</text>
<text x="199.80" y="396.00" font-size="8.4" text-anchor="middle" fill="#1a1a1a" stroke="#1a1a1a" stroke-width="0.20" textLength="11.20" lengthAdjust="spacingAndGlyphs" stroke-opacity="0.4">90′</text>
<text x="210.60" y="380.80" font-size="10.6" fill="#1a1a1a" stroke="#1a1a1a" stroke-width="0.20" textLength="85.60" lengthAdjust="spacingAndGlyphs" >BMP2 (100 ng/ml)</text>
<text x="210.60" y="396.50" font-size="10.6" fill="#1a1a1a" stroke="#1a1a1a" stroke-width="0.20" textLength="59.60" lengthAdjust="spacingAndGlyphs" >Time Course</text>
<text x="210.60" y="426.00" font-size="10.6" fill="#7a7a7a" stroke="#7a7a7a" stroke-width="0.20" textLength="73.60" lengthAdjust="spacingAndGlyphs" >IB: pSmad1/5/8</text>
<text x="210.60" y="457.30" font-size="10.6" fill="#1a1a1a" stroke="#1a1a1a" stroke-width="0.20" textLength="46.10" lengthAdjust="spacingAndGlyphs" >IB: Smad1</text>
<text x="210.60" y="486.90" font-size="10.6" fill="#1a1a1a" stroke="#1a1a1a" stroke-width="0.20" textLength="46.70" lengthAdjust="spacingAndGlyphs" >IB: β-actin</text>
<rect x="24.80" y="405.60" width="179.80" height="26.80" fill="#f1f1f1" stroke="#222" stroke-width="1.3" />
<rect x="24.80" y="436.90" width="179.80" height="26.30" fill="#f0f0f0" stroke="#222" stroke-width="1.3" />
<rect x="24.80" y="468.60" width="179.80" height="28.80" fill="#f1f1f1" stroke="#222" stroke-width="1.3" />
<g clip-path="url(#cF1)">
<rect x="42.35" y="417.30" width="12.50" height="2.60" rx="1.30" fill="#6e6e6e" filter="url(#bh)"/>
<rect x="57.35" y="416.60" width="12.50" height="4.00" rx="2.00" fill="#080808" filter="url(#bh)"/>
<rect x="72.85" y="417.10" width="11.50" height="3.00" rx="1.50" fill="#555" filter="url(#bh)"/>
<rect x="87.45" y="417.10" width="11.50" height="3.00" rx="1.50" fill="#3a3a3a" filter="url(#bh)"/>
<rect x="102.70" y="417.40" width="9.00" height="2.40" rx="1.20" fill="#c4c4c4" filter="url(#bh)"/>
<rect x="118.50" y="417.50" width="7.00" height="2.20" rx="1.10" fill="#dadada" filter="url(#bh)"/>
<rect x="130.75" y="417.10" width="11.50" height="3.00" rx="1.50" fill="#262626" filter="url(#bh)"/>
<rect x="144.65" y="416.80" width="12.50" height="3.60" rx="1.80" fill="#0c0c0c" filter="url(#bh)"/>
<rect x="160.30" y="417.20" width="11.00" height="2.80" rx="1.40" fill="#7a7a7a" filter="url(#bh)"/>
<rect x="176.00" y="417.40" width="8.00" height="2.40" rx="1.20" fill="#c8c8c8" filter="url(#bh)"/>
<rect x="190.65" y="417.50" width="9.50" height="2.20" rx="1.10" fill="#e0e0e0" filter="url(#bh)"/>
</g>
<g clip-path="url(#cF2)">
<rect x="26.70" y="446.90" width="13.80" height="5.80" rx="2.90" fill="#0a0a0a" filter="url(#bh)"/>
<rect x="41.50" y="446.90" width="13.80" height="5.80" rx="2.90" fill="#0a0a0a" filter="url(#bh)"/>
<rect x="56.50" y="446.90" width="13.80" height="5.80" rx="2.90" fill="#0a0a0a" filter="url(#bh)"/>
<rect x="71.50" y="446.90" width="13.80" height="5.80" rx="2.90" fill="#0a0a0a" filter="url(#bh)"/>
<rect x="86.50" y="446.90" width="13.80" height="5.80" rx="2.90" fill="#0a0a0a" filter="url(#bh)"/>
<rect x="100.50" y="446.90" width="13.80" height="5.80" rx="2.90" fill="#0a0a0a" filter="url(#bh)"/>
<rect x="114.30" y="446.90" width="13.80" height="5.80" rx="2.90" fill="#0a0a0a" filter="url(#bh)"/>
<rect x="129.10" y="446.90" width="13.80" height="5.80" rx="2.90" fill="#0a0a0a" filter="url(#bh)"/>
<rect x="143.90" y="446.90" width="13.80" height="5.80" rx="2.90" fill="#0a0a0a" filter="url(#bh)"/>
<rect x="157.60" y="446.90" width="13.80" height="5.80" rx="2.90" fill="#0a0a0a" filter="url(#bh)"/>
<rect x="173.10" y="446.90" width="13.80" height="5.80" rx="2.90" fill="#0a0a0a" filter="url(#bh)"/>
<rect x="187.90" y="446.90" width="13.80" height="5.80" rx="2.90" fill="#0a0a0a" filter="url(#bh)"/>
</g>
<g clip-path="url(#cF3)">
<rect x="26.00" y="479.90" width="15.20" height="3.40" rx="1.70" fill="#0a0a0a" filter="url(#bh)"/>
<rect x="40.80" y="479.90" width="15.20" height="3.40" rx="1.70" fill="#0a0a0a" filter="url(#bh)"/>
<rect x="55.80" y="479.90" width="15.20" height="3.40" rx="1.70" fill="#0a0a0a" filter="url(#bh)"/>
<rect x="70.80" y="479.90" width="15.20" height="3.40" rx="1.70" fill="#0a0a0a" filter="url(#bh)"/>
<rect x="85.80" y="479.90" width="15.20" height="3.40" rx="1.70" fill="#0a0a0a" filter="url(#bh)"/>
<rect x="99.80" y="479.90" width="15.20" height="3.40" rx="1.70" fill="#0a0a0a" filter="url(#bh)"/>
<rect x="113.60" y="479.90" width="15.20" height="3.40" rx="1.70" fill="#0a0a0a" filter="url(#bh)"/>
<rect x="128.40" y="479.90" width="15.20" height="3.40" rx="1.70" fill="#0a0a0a" filter="url(#bh)"/>
<rect x="143.20" y="479.90" width="15.20" height="3.40" rx="1.70" fill="#0a0a0a" filter="url(#bh)"/>
<rect x="156.90" y="479.90" width="15.20" height="3.40" rx="1.70" fill="#0a0a0a" filter="url(#bh)"/>
<rect x="172.40" y="479.90" width="15.20" height="3.40" rx="1.70" fill="#0a0a0a" filter="url(#bh)"/>
<rect x="187.20" y="479.90" width="15.20" height="3.40" rx="1.70" fill="#0a0a0a" filter="url(#bh)"/>
</g>
<line x1="8.10" y1="418.40" x2="20.00" y2="418.40" stroke="#111" stroke-width="1.2" />
<path d="M24.60,418.40 Q19.95,416.40 15.30,412.70 L17.60,418.40 L15.30,424.10 Q19.95,420.39 24.60,418.40 Z" fill="#111"/>
<text x="2.90" y="430.40" font-size="6.2" fill="#111" stroke="#111" stroke-width="0.35" textLength="19.60" lengthAdjust="spacingAndGlyphs" >60 kDa</text>
<text x="304.20" y="357.60" font-size="18" font-weight="bold" fill="#111" stroke="#111" stroke-width="0.45" >G</text>
<line x1="367.30" y1="344.60" x2="367.30" y2="479.00" stroke="#1a1a1a" stroke-width="1.4" />
<line x1="365.20" y1="476.00" x2="514.20" y2="476.00" stroke="#1a1a1a" stroke-width="1.4" />
<line x1="364.30" y1="476.00" x2="367.30" y2="476.00" stroke="#222" stroke-width="1.0" />
<text x="362.60" y="479.00" font-size="8.4" text-anchor="end" fill="#333" stroke="#333" stroke-width="0.20" >0</text>
<line x1="364.30" y1="458.90" x2="367.30" y2="458.90" stroke="#222" stroke-width="1.0" />
<text x="362.60" y="461.90" font-size="8.4" text-anchor="end" fill="#333" stroke="#333" stroke-width="0.20" >5</text>
<line x1="364.30" y1="441.80" x2="367.30" y2="441.80" stroke="#222" stroke-width="1.0" />
<text x="362.60" y="444.80" font-size="8.4" text-anchor="end" fill="#333" stroke="#333" stroke-width="0.20" >10</text>
<line x1="364.30" y1="424.70" x2="367.30" y2="424.70" stroke="#222" stroke-width="1.0" />
<text x="362.60" y="427.70" font-size="8.4" text-anchor="end" fill="#333" stroke="#333" stroke-width="0.20" >15</text>
<line x1="364.30" y1="407.60" x2="367.30" y2="407.60" stroke="#222" stroke-width="1.0" />
<text x="362.60" y="410.60" font-size="8.4" text-anchor="end" fill="#333" stroke="#333" stroke-width="0.20" >20</text>
<line x1="364.30" y1="390.50" x2="367.30" y2="390.50" stroke="#222" stroke-width="1.0" />
<text x="362.60" y="393.50" font-size="8.4" text-anchor="end" fill="#333" stroke="#333" stroke-width="0.20" >25</text>
<line x1="364.30" y1="373.40" x2="367.30" y2="373.40" stroke="#222" stroke-width="1.0" />
<text x="362.60" y="376.40" font-size="8.4" text-anchor="end" fill="#333" stroke="#333" stroke-width="0.20" >30</text>
<line x1="364.30" y1="356.30" x2="367.30" y2="356.30" stroke="#222" stroke-width="1.0" />
<text x="362.60" y="359.30" font-size="8.4" text-anchor="end" fill="#333" stroke="#333" stroke-width="0.20" >35</text>
<line x1="441.50" y1="476.00" x2="441.50" y2="479.50" stroke="#222" stroke-width="1.0" />
<rect x="378.60" y="472.20" width="21.20" height="3.80" fill="#fff" stroke="#222" stroke-width="1.0" />
<rect x="408.90" y="373.80" width="23.10" height="102.20" fill="#0a0a0a" />
<rect x="452.70" y="472.20" width="23.50" height="3.80" fill="#fff" stroke="#222" stroke-width="1.0" />
<rect x="483.10" y="461.60" width="23.00" height="14.40" fill="#0a0a0a" />
<line x1="388.70" y1="468.80" x2="388.70" y2="471.70" stroke="#222" stroke-width="1.0" />
<line x1="387.10" y1="468.80" x2="390.30" y2="468.80" stroke="#222" stroke-width="1.0" />
<line x1="420.50" y1="357.70" x2="420.50" y2="373.80" stroke="#222" stroke-width="1.0" />
<line x1="417.90" y1="357.70" x2="423.10" y2="357.70" stroke="#222" stroke-width="1.0" />
<line x1="465.20" y1="468.30" x2="465.20" y2="471.70" stroke="#222" stroke-width="1.0" />
<line x1="463.60" y1="468.30" x2="466.80" y2="468.30" stroke="#222" stroke-width="1.0" />
<line x1="494.60" y1="453.00" x2="494.60" y2="461.60" stroke="#222" stroke-width="1.0" />
<line x1="492.80" y1="453.00" x2="496.40" y2="453.00" stroke="#222" stroke-width="1.0" />
<path d="M420.5,357.7 L420.5,348.7 L497.9,348.7 L497.9,409.2" fill="none" stroke="#222" stroke-width="1.0" />
<text x="458.10" y="350.00" font-size="11" text-anchor="middle" fill="#222" stroke="#222" stroke-width="0.20" >*</text>
<text x="375.20" y="487.60" font-size="8.4" fill="#1a1a1a" stroke="#1a1a1a" stroke-width="0.20" textLength="26.50" lengthAdjust="spacingAndGlyphs" >Control</text>
<text x="411.80" y="487.60" font-size="8.4" fill="#1a1a1a" stroke="#1a1a1a" stroke-width="0.20" textLength="21.10" lengthAdjust="spacingAndGlyphs" >BMP2</text>
<text x="449.30" y="487.60" font-size="8.4" fill="#1a1a1a" stroke="#1a1a1a" stroke-width="0.20" textLength="26.80" lengthAdjust="spacingAndGlyphs" >Control</text>
<text x="485.40" y="487.60" font-size="8.4" fill="#1a1a1a" stroke="#1a1a1a" stroke-width="0.20" textLength="20.70" lengthAdjust="spacingAndGlyphs" >BMP2</text>
<line x1="367.00" y1="491.90" x2="440.10" y2="491.90" stroke="#222" stroke-width="1.3" />
<line x1="444.40" y1="491.90" x2="517.50" y2="491.90" stroke="#222" stroke-width="1.3" />
<text x="380.10" y="502.90" font-size="8.4" fill="#1a1a1a" stroke="#1a1a1a" stroke-width="0.20" textLength="53.40" lengthAdjust="spacingAndGlyphs" >Neogenin +/+</text>
<text x="460.60" y="502.90" font-size="8.4" fill="#1a1a1a" stroke="#1a1a1a" stroke-width="0.20" textLength="37.50" lengthAdjust="spacingAndGlyphs" >Neogenin</text>
<text x="500.30" y="499.00" font-size="6.2" fill="#1a1a1a" stroke="#1a1a1a" stroke-width="0.20" textLength="13.40" lengthAdjust="spacingAndGlyphs" >m/m</text>
<text x="332.60" y="411.30" font-size="9.8" text-anchor="middle" fill="#1a1a1a" stroke="#1a1a1a" stroke-width="0.20" textLength="99.40" lengthAdjust="spacingAndGlyphs" transform="rotate(-90 332.60 411.30)" >mhepcidin expression</text>
<text x="343.20" y="412.50" font-size="7.6" text-anchor="middle" fill="#1a1a1a" stroke="#1a1a1a" stroke-width="0.20" textLength="80.40" lengthAdjust="spacingAndGlyphs" transform="rotate(-90 343.20 412.50)" >(mhepc/NADPH RP)</text>
<text x="0.80" y="530.10" font-size="18" font-weight="bold" fill="#111" stroke="#111" stroke-width="0.45" >H</text>
<line x1="55.80" y1="519.20" x2="55.80" y2="660.50" stroke="#111" stroke-width="1.5" />
<line x1="55.10" y1="660.00" x2="234.00" y2="660.00" stroke="#111" stroke-width="1.5" />
<text x="42.60" y="664.30" font-size="8.8" text-anchor="end" font-weight="bold" fill="#111" stroke="#111" stroke-width="0.3" >0</text>
<line x1="51.60" y1="632.08" x2="55.80" y2="632.08" stroke="#111" stroke-width="1.4" />
<text x="42.60" y="636.38" font-size="8.8" text-anchor="end" font-weight="bold" fill="#111" stroke="#111" stroke-width="0.3" >0.2</text>
<line x1="51.60" y1="604.16" x2="55.80" y2="604.16" stroke="#111" stroke-width="1.4" />
<text x="42.60" y="608.46" font-size="8.8" text-anchor="end" font-weight="bold" fill="#111" stroke="#111" stroke-width="0.3" >0.4</text>
<line x1="51.60" y1="576.24" x2="55.80" y2="576.24" stroke="#111" stroke-width="1.4" />
<text x="42.60" y="580.54" font-size="8.8" text-anchor="end" font-weight="bold" fill="#111" stroke="#111" stroke-width="0.3" >0.6</text>
<line x1="51.60" y1="548.32" x2="55.80" y2="548.32" stroke="#111" stroke-width="1.4" />
<text x="42.60" y="552.62" font-size="8.8" text-anchor="end" font-weight="bold" fill="#111" stroke="#111" stroke-width="0.3" >0.8</text>
<line x1="51.60" y1="520.40" x2="55.80" y2="520.40" stroke="#111" stroke-width="1.4" />
<text x="42.60" y="524.70" font-size="8.8" text-anchor="end" font-weight="bold" fill="#111" stroke="#111" stroke-width="0.3" >1</text>
<line x1="85.08" y1="660.00" x2="85.08" y2="664.00" stroke="#111" stroke-width="1.2" />
<line x1="114.36" y1="660.00" x2="114.36" y2="664.00" stroke="#111" stroke-width="1.2" />
<line x1="143.64" y1="660.00" x2="143.64" y2="664.00" stroke="#111" stroke-width="1.2" />
<line x1="172.92" y1="660.00" x2="172.92" y2="664.00" stroke="#111" stroke-width="1.2" />
<line x1="202.20" y1="660.00" x2="202.20" y2="664.00" stroke="#111" stroke-width="1.2" />
<line x1="231.48" y1="660.00" x2="231.48" y2="664.00" stroke="#111" stroke-width="1.2" />
<text x="54.10" y="677.50" font-size="9.0" text-anchor="middle" font-weight="bold" fill="#111" stroke="#111" stroke-width="0.3" >0</text>
<text x="84.40" y="677.50" font-size="9.0" text-anchor="middle" font-weight="bold" fill="#111" stroke="#111" stroke-width="0.3" >15</text>
<text x="113.50" y="677.50" font-size="9.0" text-anchor="middle" font-weight="bold" fill="#111" stroke="#111" stroke-width="0.3" >30</text>
<text x="141.80" y="677.50" font-size="9.0" text-anchor="middle" font-weight="bold" fill="#111" stroke="#111" stroke-width="0.3" >45</text>
<text x="170.50" y="677.50" font-size="9.0" text-anchor="middle" font-weight="bold" fill="#111" stroke="#111" stroke-width="0.3" >60</text>
<text x="200.00" y="677.50" font-size="9.0" text-anchor="middle" font-weight="bold" fill="#111" stroke="#111" stroke-width="0.3" >75</text>
<text x="229.00" y="677.50" font-size="9.0" text-anchor="middle" font-weight="bold" fill="#111" stroke="#111" stroke-width="0.3" >90</text>
<text x="85.20" y="691.70" font-size="9.2" fill="#222" stroke="#222" stroke-width="0.20" textLength="120.40" lengthAdjust="spacingAndGlyphs" >BMP2 Stimulation (time, min)</text>
<text x="22.60" y="588.90" font-size="9.0" text-anchor="middle" font-weight="bold" fill="#111" stroke="#111" stroke-width="0.3" textLength="119.80" lengthAdjust="spacingAndGlyphs" transform="rotate(-90 22.60 588.90)" >Relative pSmad1/5/8 (fold)</text>
<path d="M55.8,653.0 C61,645.6 76.5,628 85.8,608.8 C95.7,588 101.5,535 115.4,535.0 C131,535 152,586 172.7,601.0 C186,610.5 203,594 215,593.5 C224,593.2 229,596 231.3,597.9" fill="none" stroke="#7a7a7a" stroke-width="1.3" />
<path d="M55.8,655.4 C63,642 77,615 85.8,597.6 C94,583 101,576.6 109.5,576.6 C123,576.6 142,603 173.1,629.2 C190,641 212,645 231.9,648.1" fill="none" stroke="#222" stroke-width="1.7" />
<circle cx="55.8" cy="653.0" r="3.1" fill="#6a6a6a"/>
<circle cx="85.8" cy="608.8" r="3.1" fill="#6a6a6a"/>
<circle cx="115.4" cy="535.0" r="3.1" fill="#6a6a6a"/>
<circle cx="172.7" cy="601.0" r="3.1" fill="#6a6a6a"/>
<circle cx="231.3" cy="597.9" r="3.1" fill="#6a6a6a"/>
<rect x="52.90" y="652.50" width="5.80" height="5.80" fill="#383838" />
<rect x="82.90" y="594.70" width="5.80" height="5.80" fill="#383838" />
<rect x="170.20" y="626.30" width="5.80" height="5.80" fill="#383838" />
<rect x="229.00" y="645.20" width="5.80" height="5.80" fill="#383838" />
<line x1="153.90" y1="525.20" x2="171.40" y2="525.20" stroke="#6a6a6a" stroke-width="1.4" />
<circle cx="162.3" cy="525.2" r="2.9" fill="#6a6a6a"/>
<line x1="153.50" y1="541.70" x2="171.40" y2="541.70" stroke="#222" stroke-width="1.6" />
<rect x="159.60" y="539.00" width="5.40" height="5.40" fill="#383838" />
<text x="175.70" y="528.60" font-size="9.4" font-weight="bold" fill="#111" stroke="#111" stroke-width="0.3" textLength="61.30" lengthAdjust="spacingAndGlyphs" >Neogenin+/+</text>
<text x="176.70" y="544.30" font-size="9.6" font-weight="bold" fill="#111" stroke="#111" stroke-width="0.3" textLength="44.50" lengthAdjust="spacingAndGlyphs" >Neogenin</text>
<text x="221.20" y="541.40" font-size="10.6" font-weight="bold" fill="#111" stroke="#111" stroke-width="0.3" textLength="22.20" lengthAdjust="spacingAndGlyphs" >m/m</text>
<text x="304.00" y="529.90" font-size="18" font-weight="bold" fill="#111" stroke="#111" stroke-width="0.45" >I</text>
<line x1="364.00" y1="518.50" x2="364.00" y2="659.50" stroke="#1a1a1a" stroke-width="1.4" />
<line x1="363.50" y1="658.90" x2="519.00" y2="658.90" stroke="#1a1a1a" stroke-width="1.4" />
<line x1="518.60" y1="658.90" x2="518.60" y2="663.00" stroke="#222" stroke-width="1.0" />
<text x="357.40" y="662.10" font-size="6.8" text-anchor="end" fill="#222" stroke="#222" stroke-width="0.20" >0</text>
<line x1="361.20" y1="631.10" x2="364.00" y2="631.10" stroke="#1a1a1a" stroke-width="1.3" />
<text x="357.40" y="634.20" font-size="6.8" text-anchor="end" fill="#222" stroke="#222" stroke-width="0.20" >0.25</text>
<line x1="361.20" y1="603.20" x2="364.00" y2="603.20" stroke="#1a1a1a" stroke-width="1.3" />
<text x="357.40" y="606.30" font-size="6.8" text-anchor="end" fill="#222" stroke="#222" stroke-width="0.20" >0.50</text>
<line x1="361.20" y1="575.30" x2="364.00" y2="575.30" stroke="#1a1a1a" stroke-width="1.3" />
<text x="357.40" y="578.40" font-size="6.8" text-anchor="end" fill="#222" stroke="#222" stroke-width="0.20" >0.75</text>
<line x1="361.20" y1="547.40" x2="364.00" y2="547.40" stroke="#1a1a1a" stroke-width="1.3" />
<text x="357.40" y="550.50" font-size="6.8" text-anchor="end" fill="#222" stroke="#222" stroke-width="0.20" >1.00</text>
<line x1="361.20" y1="519.50" x2="364.00" y2="519.50" stroke="#1a1a1a" stroke-width="1.3" />
<text x="357.40" y="522.60" font-size="6.8" text-anchor="end" fill="#222" stroke="#222" stroke-width="0.20" >1.25</text>
<rect x="381.50" y="548.40" width="20.60" height="110.60" fill="#fff" stroke="#222" stroke-width="1.0" />
<rect x="403.70" y="545.30" width="24.60" height="113.70" fill="#0a0a0a" />
<rect x="465.10" y="548.40" width="20.60" height="110.60" fill="#fff" stroke="#222" stroke-width="1.0" />
<rect x="487.70" y="592.00" width="23.60" height="67.00" fill="#0a0a0a" />
<line x1="392.50" y1="543.80" x2="392.50" y2="547.90" stroke="#222" stroke-width="1.0" />
<line x1="387.90" y1="543.80" x2="397.10" y2="543.80" stroke="#222" stroke-width="1.0" />
<line x1="415.80" y1="542.40" x2="415.80" y2="545.30" stroke="#222" stroke-width="1.0" />
<line x1="410.60" y1="542.40" x2="421.00" y2="542.40" stroke="#222" stroke-width="1.0" />
<line x1="476.30" y1="545.00" x2="476.30" y2="547.90" stroke="#222" stroke-width="1.0" />
<line x1="471.60" y1="545.00" x2="481.00" y2="545.00" stroke="#222" stroke-width="1.0" />
<line x1="499.80" y1="584.20" x2="499.80" y2="592.00" stroke="#222" stroke-width="1.0" />
<line x1="494.50" y1="584.20" x2="505.10" y2="584.20" stroke="#222" stroke-width="1.0" />
<text x="499.80" y="582.60" font-size="13" text-anchor="middle" fill="#333" stroke="#333" stroke-width="0.14" >*</text>
<text x="325.40" y="672.90" font-size="12.6" fill="#111" stroke="#111" stroke-width="0.14" textLength="49.90" lengthAdjust="spacingAndGlyphs" >Neogenin</text>
<text x="382.50" y="672.70" font-size="12.5" font-weight="bold" fill="#0a0a0a" textLength="21.10" lengthAdjust="spacingAndGlyphs" >+/+</text>
<text x="406.60" y="671.80" font-size="11.5" fill="#222" stroke="#222" stroke-width="0.14" textLength="25.40" lengthAdjust="spacingAndGlyphs" stroke-opacity="0">m/m</text>
<text x="464.10" y="672.70" font-size="12.5" font-weight="bold" fill="#0a0a0a" textLength="21.20" lengthAdjust="spacingAndGlyphs" >+/+</text>
<text x="488.20" y="671.80" font-size="11.5" fill="#222" stroke="#222" stroke-width="0.14" textLength="26.70" lengthAdjust="spacingAndGlyphs" stroke-opacity="0">m/m</text>
<line x1="378.30" y1="677.10" x2="432.00" y2="677.10" stroke="#555" stroke-width="1.0" />
<line x1="464.10" y1="677.10" x2="517.80" y2="677.10" stroke="#555" stroke-width="1.0" />
<text x="379.50" y="691.90" font-size="9.8" font-style="italic" fill="#1a1a1a" stroke="#1a1a1a" stroke-width="0.10" textLength="55.00" lengthAdjust="spacingAndGlyphs" >Hepatocytes</text>
<text x="476.80" y="691.90" font-size="9.8" font-style="italic" fill="#1a1a1a" stroke="#1a1a1a" stroke-width="0.10" textLength="25.40" lengthAdjust="spacingAndGlyphs" >Livers</text>
<text x="324.90" y="588.20" font-size="10.4" text-anchor="middle" fill="#222" stroke="#222" stroke-width="0.20" textLength="102.60" lengthAdjust="spacingAndGlyphs" transform="rotate(-90 324.90 588.20)" >mhepcidin expression</text>
<text x="336.20" y="589.90" font-size="9.6" text-anchor="middle" fill="#222" stroke="#222" stroke-width="0.20" textLength="66.30" lengthAdjust="spacingAndGlyphs" transform="rotate(-90 336.20 589.90)" >(over WT, fold)</text>
</svg></div>
</body></html>
